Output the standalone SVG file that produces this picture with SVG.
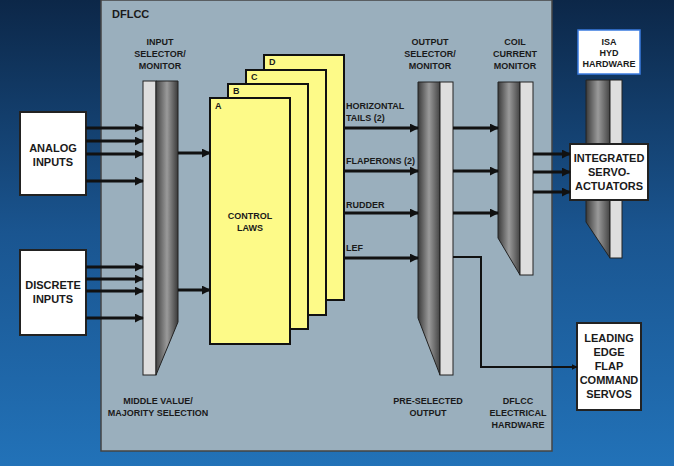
<svg xmlns="http://www.w3.org/2000/svg" width="674" height="466" viewBox="0 0 674 466">
<defs>
<linearGradient id="bg" x1="0" y1="0" x2="0" y2="1"><stop offset="0" stop-color="#0c2748"/><stop offset="0.5" stop-color="#1a5590"/><stop offset="1" stop-color="#2272b8"/></linearGradient>
<linearGradient id="drk" x1="0" y1="0" x2="1" y2="0"><stop offset="0" stop-color="#3a3a3a"/><stop offset="0.5" stop-color="#9a9a9a"/><stop offset="1" stop-color="#444"/></linearGradient>
<linearGradient id="drkR" x1="0" y1="0" x2="1" y2="0"><stop offset="0" stop-color="#444"/><stop offset="0.5" stop-color="#9a9a9a"/><stop offset="1" stop-color="#3a3a3a"/></linearGradient>
<marker id="ah" viewBox="0 0 10 10" refX="9" refY="5" markerWidth="3" markerHeight="3" orient="auto" markerUnits="strokeWidth"><path d="M0,0L10,5L0,10z" fill="#111"/></marker>
</defs>
<style>
text{font-family:"Liberation Sans",Arial,sans-serif;font-weight:bold;font-size:9px;fill:#1a1a1a;text-anchor:middle}
.l{text-anchor:start}
.big{font-size:11px}
.card{fill:#fdfa88;stroke:#111;stroke-width:2}
.box{fill:#fff;stroke:#222;stroke-width:2}
.lt{fill:#dedede;stroke:#222;stroke-width:1}
.c line,.c path{stroke:#111;stroke-width:3;fill:none;marker-end:url(#ah)}
</style>
<rect width="674" height="466" fill="url(#bg)"/>
<g id="dflcc"><rect x="101" y="0" width="451" height="451" fill="#9aafbd" stroke="#444" stroke-width="1.5"/><text class="l big" x="112" y="18">DFLCC</text></g>
<g id="input-selector">
<rect class="lt" x="143" y="81" width="13" height="294"/>
<path d="M156,81H178V322L156,375Z" fill="url(#drkR)" stroke="#222"/>
<text x="160" y="45">INPUT</text><text x="160" y="57">SELECTOR/</text><text x="160" y="69">MONITOR</text>
<text x="158" y="404">MIDDLE VALUE/</text><text x="158" y="416">MAJORITY SELECTION</text>
</g>
<g id="control-laws">
<rect class="card" x="264" y="55" width="80" height="245"/><text class="l" x="269" y="65">D</text>
<rect class="card" x="246" y="70" width="80" height="245"/><text class="l" x="251" y="80">C</text>
<rect class="card" x="228" y="84" width="80" height="245"/><text class="l" x="233" y="94">B</text>
<rect class="card" x="210" y="98" width="80" height="246"/><text class="l" x="215" y="109">A</text>
<text x="250" y="219">CONTROL</text><text x="250" y="231">LAWS</text>
</g>
<g id="output-selector">
<path d="M418,82H440V375L418,318Z" fill="url(#drk)" stroke="#222"/>
<rect class="lt" x="440" y="82" width="13" height="293"/>
<text x="430" y="45">OUTPUT</text><text x="430" y="57">SELECTOR/</text><text x="430" y="69">MONITOR</text>
<text x="428" y="404">PRE-SELECTED</text><text x="428" y="416">OUTPUT</text>
</g>
<g id="coil-monitor">
<path d="M498,82H520V275L498,238Z" fill="url(#drk)" stroke="#222"/>
<rect class="lt" x="520" y="82" width="13" height="193"/>
<text x="515" y="45">COIL</text><text x="515" y="57">CURRENT</text><text x="515" y="69">MONITOR</text>
<text x="518" y="404">DFLCC</text><text x="518" y="416">ELECTRICAL</text><text x="518" y="428">HARDWARE</text>
</g>
<g id="isa-hyd">
<path d="M586,80H610V258L586,222Z" fill="url(#drk)" stroke="#222"/>
<rect class="lt" x="610" y="80" width="12" height="178"/>
<rect x="578" y="30" width="62" height="44" fill="#fff" stroke="#3a7be0" stroke-width="1.5"/>
<text x="609" y="45">ISA</text><text x="609" y="56">HYD</text><text x="609" y="67">HARDWARE</text>
</g>
<g id="analog"><rect class="box" x="20" y="112" width="66" height="83"/><text class="big" x="53" y="152">ANALOG</text><text class="big" x="53" y="166">INPUTS</text></g>
<g id="discrete"><rect class="box" x="20" y="250" width="66" height="85"/><text class="big" x="53" y="289">DISCRETE</text><text class="big" x="53" y="303">INPUTS</text></g>
<g id="servo"><rect class="box" x="570" y="144" width="78" height="56"/><text class="big" x="609" y="162">INTEGRATED</text><text class="big" x="609" y="176">SERVO-</text><text class="big" x="609" y="190">ACTUATORS</text></g>
<g id="lef"><rect class="box" x="577" y="323" width="64" height="87"/><text class="big" x="609" y="342">LEADING</text><text class="big" x="609" y="356">EDGE</text><text class="big" x="609" y="370">FLAP</text><text class="big" x="609" y="384">COMMAND</text><text class="big" x="609" y="398">SERVOS</text></g>
<g id="labels"><text class="l" x="346" y="109">HORIZONTAL</text><text class="l" x="346" y="121">TAILS (2)</text><text class="l" x="346" y="164">FLAPERONS (2)</text><text class="l" x="346" y="208">RUDDER</text><text class="l" x="346" y="251">LEF</text></g>
<g class="c" id="connectors">
<line x1="86" y1="128" x2="143" y2="128"/><line x1="86" y1="141" x2="143" y2="141"/><line x1="86" y1="154" x2="143" y2="154"/><line x1="86" y1="181" x2="143" y2="181"/>
<line x1="86" y1="267" x2="143" y2="267"/><line x1="86" y1="279" x2="143" y2="279"/><line x1="86" y1="291" x2="143" y2="291"/><line x1="86" y1="318" x2="143" y2="318"/>
<line x1="178" y1="153" x2="210" y2="153"/><line x1="178" y1="290" x2="210" y2="290"/>
<line x1="344" y1="128" x2="418" y2="128"/><line x1="344" y1="171" x2="418" y2="171"/><line x1="344" y1="213" x2="418" y2="213"/><line x1="344" y1="258" x2="418" y2="258"/>
<line x1="453" y1="128" x2="498" y2="128"/><line x1="453" y1="171" x2="498" y2="171"/><line x1="453" y1="213" x2="498" y2="213"/>
<line x1="533" y1="154" x2="570" y2="154"/><line x1="533" y1="172" x2="570" y2="172"/><line x1="533" y1="192" x2="570" y2="192"/>
<path d="M453,257H481V367H577" style="stroke-width:2"/>
</g>
</svg>
